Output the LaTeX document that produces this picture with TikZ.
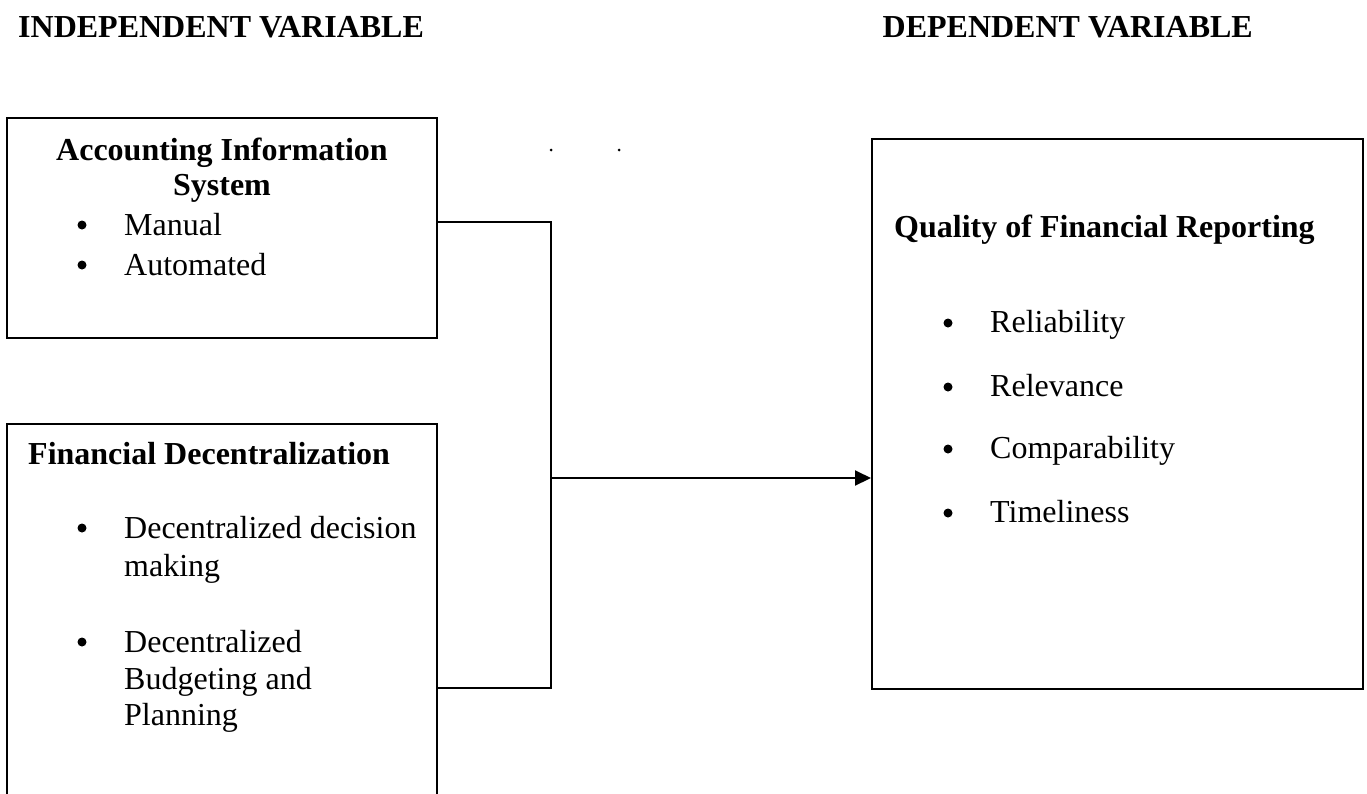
\documentclass[tikz,border=0pt]{standalone}
\usepackage{fontspec}
\setmainfont{Liberation Serif}
\usetikzlibrary{arrows.meta}
\begin{document}
\begin{tikzpicture}[x=1pt,y=-1pt,
  box/.style={draw,line width=2pt,rectangle,inner sep=0pt},
  conn/.style={line width=2pt},
  hdr/.style={inner sep=0pt,anchor=base west,font=\fontsize{32}{37}\selectfont\bfseries},
  ttl/.style={inner sep=0pt,anchor=base,font=\fontsize{32}{37}\selectfont\bfseries},
  ttlw/.style={inner sep=0pt,anchor=base west,font=\fontsize{32}{37}\selectfont\bfseries},
  itm/.style={inner sep=0pt,anchor=base west,font=\fontsize{32}{37}\selectfont},
  bul/.style={circle,fill,inner sep=0pt,minimum size=9pt}]
\useasboundingbox (0,0) rectangle (1367,793);
\clip (0,0) rectangle (1367,793);
% headers
\node[hdr] (hind) at (18,37) {INDEPENDENT VARIABLE};
\node[hdr,anchor=base east] (hdep) at (1253,37) {DEPENDENT VARIABLE};
% boxes
\node[box,minimum width=430pt,minimum height=220pt] (box1) at (222,228) {};
\node[box,minimum width=430pt,minimum height=400pt] (box2) at (222,624) {};
\node[box,minimum width=491pt,minimum height=550pt] (box3) at (1117.5,414) {};
% box 1 text
\node[ttl] (t1a) at (222,160) {Accounting Information};
\node[ttl] (t1b) at (222,195) {System};
\node[bul] (b1a) at (82,225) {};
\node[itm] (i1a) at (124,235) {Manual};
\node[bul] (b1b) at (82,265) {};
\node[itm] (i1b) at (124,275) {Automated};
% box 2 text
\node[ttlw] (t2) at (28,464) {Financial Decentralization};
\node[bul] (b2a) at (82,528) {};
\node[itm] (i2a) at (124,538) {Decentralized decision};
\node[itm] (i2b) at (124,576) {making};
\node[bul] (b2c) at (82,642) {};
\node[itm] (i2c) at (124,652) {Decentralized};
\node[itm] (i2d) at (124,689) {Budgeting and};
\node[itm] (i2e) at (124,725) {Planning};
% box 3 text
\node[ttlw] (t3) at (894,237) {Quality of Financial Reporting};
\node[bul] (b3a) at (948,323) {};
\node[itm] (i3a) at (990,332) {Reliability};
\node[bul] (b3b) at (948,387) {};
\node[itm] (i3b) at (990,396) {Relevance};
\node[bul] (b3c) at (948,449) {};
\node[itm] (i3c) at (990,458) {Comparability};
\node[bul] (b3d) at (948,513) {};
\node[itm] (i3d) at (990,522) {Timeliness};
% connectors
\coordinate (j1) at (551,222);
\coordinate (j2) at (551,688);
\coordinate (jm) at (551,478);
\draw[conn] (box1.east |- j1) -- (j1) -- (j2) -- (box2.east |- j2);
\draw[conn,-{Triangle[length=16pt,width=15pt]}] (jm) -- (box3.west |- jm);
% stray specks
\coordinate (s1) at (551,150);
\coordinate (s2) at (619,150);
\fill (s1) circle (1.5pt);
\fill (s2) circle (1.5pt);
\end{tikzpicture}
\end{document}
